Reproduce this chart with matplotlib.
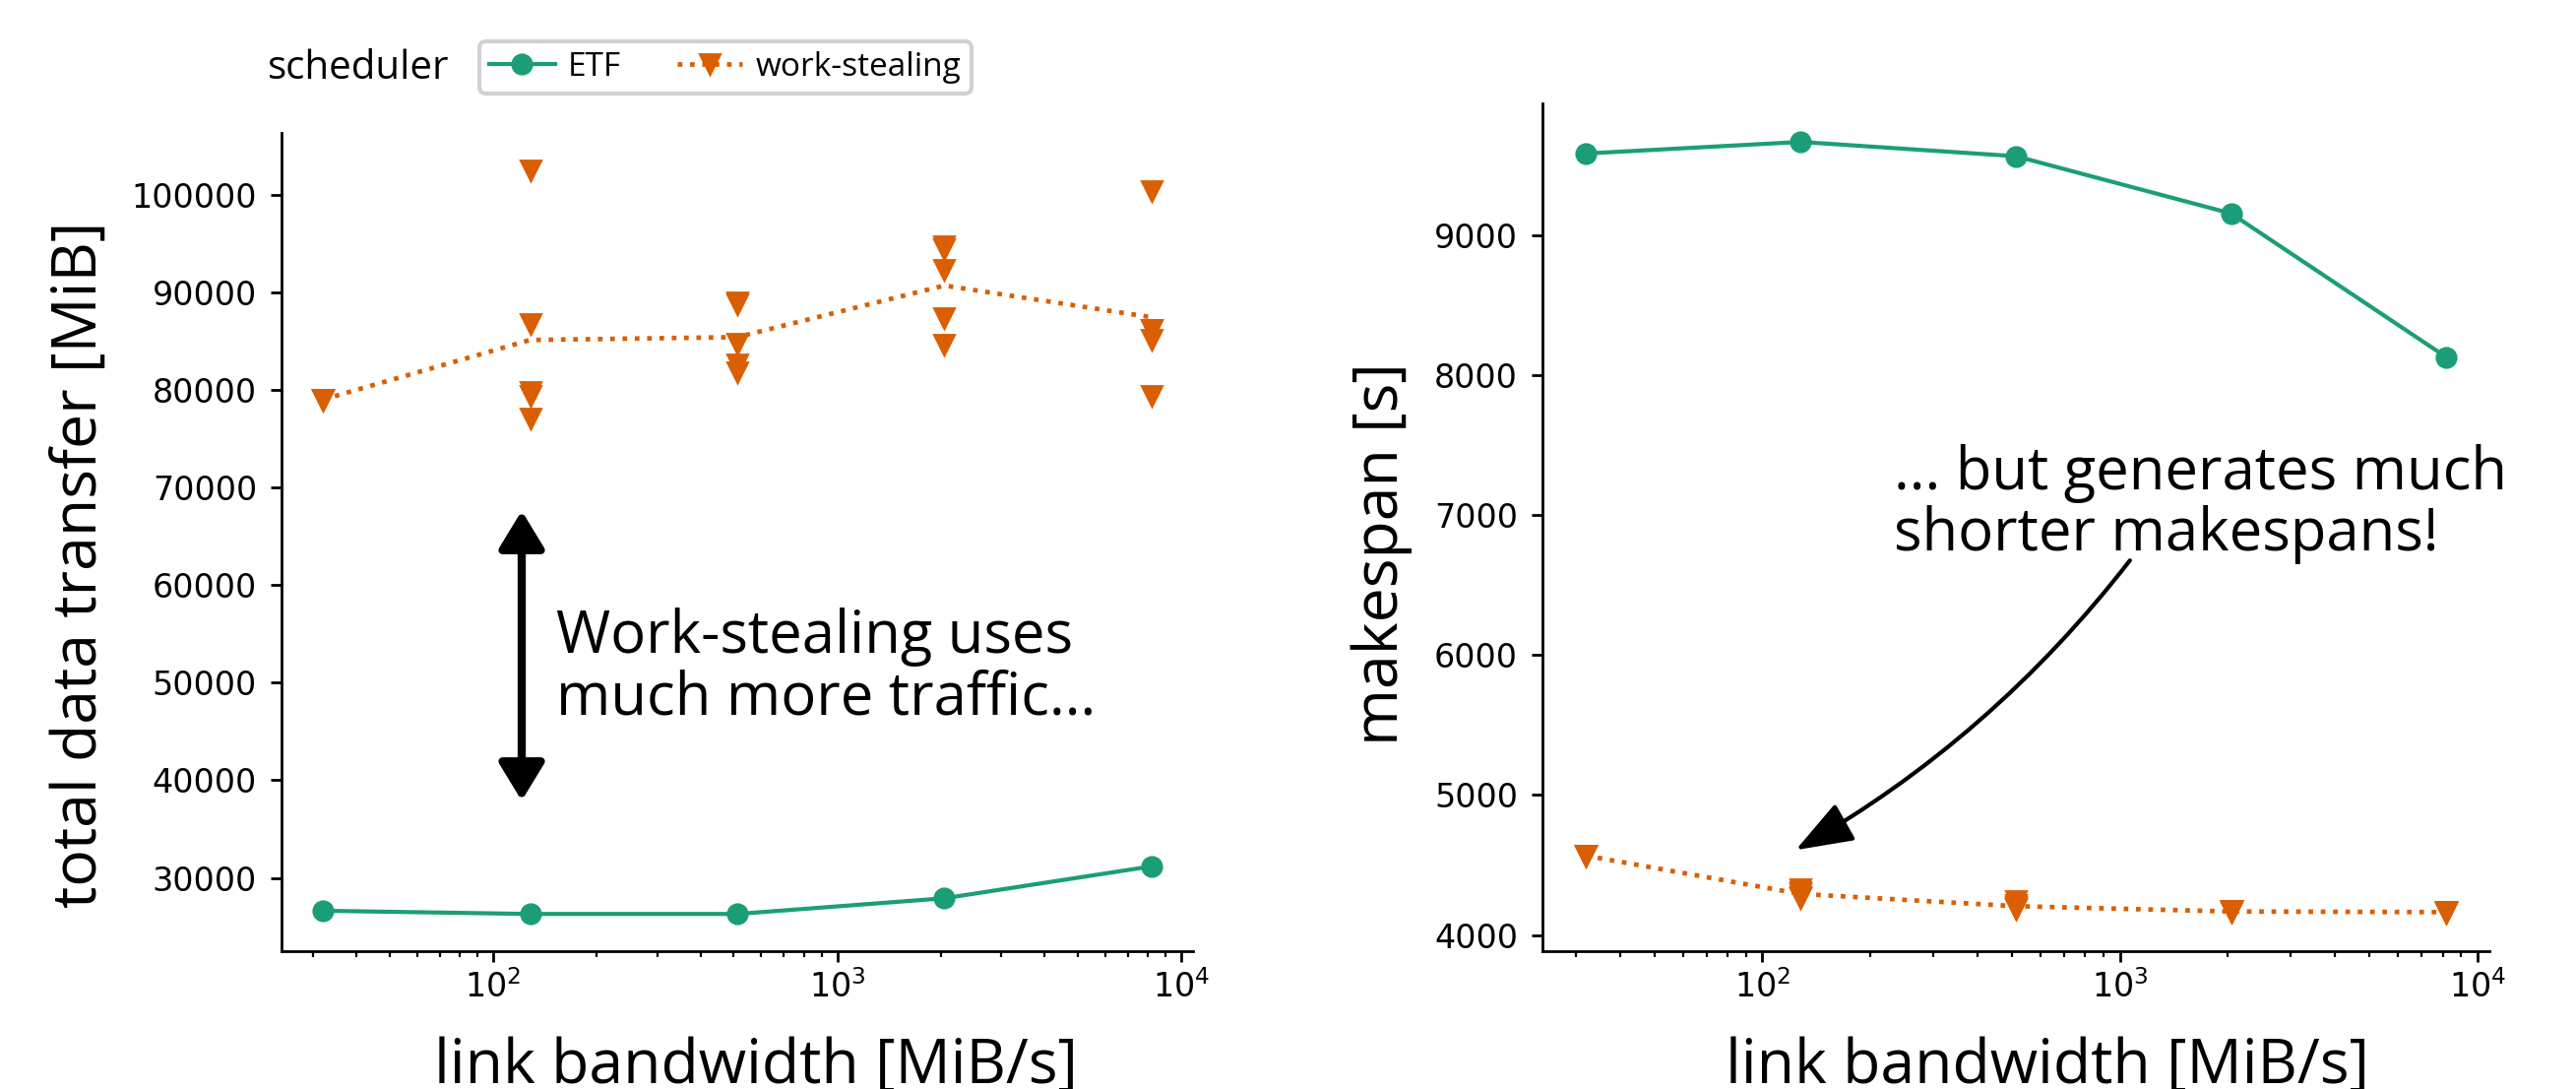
import numpy as np
import matplotlib
matplotlib.use("Agg")
import matplotlib.pyplot as plt
from matplotlib.ticker import MultipleLocator
from matplotlib.lines import Line2D

# ---------------- data ----------------
bandwidth = [32, 128, 512, 2048, 8192]          # link bandwidth [MiB/s]
schedulers = ["ETF", "work-stealing"]

etf_transfer = [26630, 26300, 26300, 27910, 31180]
ws_transfer_32 = [79000, 79000, 79000, 79000, 79000]
ws_transfer_128 = [102500, 86700, 79800, 79400, 77100]
ws_transfer_512 = [89000, 88800, 84700, 82650, 81800]
ws_transfer_2048 = [94700, 94400, 92330, 87370, 84580]
ws_transfer_8192 = [100340, 86160, 86160, 85080, 79400]
ws_transfer = [ws_transfer_32, ws_transfer_128, ws_transfer_512,
               ws_transfer_2048, ws_transfer_8192]

etf_makespan = [9581, 9664, 9562, 9153, 8127]
ws_makespan_32 = [4567, 4567, 4567, 4567, 4567]
ws_makespan_128 = [4330, 4310, 4290, 4275, 4262]
ws_makespan_512 = [4240, 4215, 4200, 4190, 4185]
ws_makespan_2048 = [4172, 4170, 4168, 4166, 4165]
ws_makespan_8192 = [4168, 4165, 4163, 4161, 4160]
ws_makespan = [ws_makespan_32, ws_makespan_128, ws_makespan_512,
               ws_makespan_2048, ws_makespan_8192]

# ---------------- style ----------------
plt.rcParams['font.family'] = ['Open Sans', 'DejaVu Sans']
plt.rcParams['axes.linewidth'] = 1.0

ETF_C = '#1b9e77'
WS_C = '#d95f02'

W, H = 2617, 1106
fig = plt.figure(figsize=(W / 200, H / 200), dpi=200)
ax1 = fig.add_axes([286 / W, 1 - 966 / H, 926 / W, 831 / H])
ax2 = fig.add_axes([1567 / W, 1 - 966 / H, 962 / W, 861 / H])


def draw(ax, etf, ws):
    ax.set_xscale('log')
    ax.plot(bandwidth, etf, color=ETF_C, marker='o', ms=7, lw=1.5, zorder=3)
    means = [np.mean(v) for v in ws]
    ax.plot(bandwidth, means, color=WS_C, ls=':', lw=1.7, zorder=3)
    for x, vals in zip(bandwidth, ws):
        ax.plot([x] * len(vals), vals, ls='none', marker='v', ms=7,
                color=WS_C, zorder=4)
    for s in ('top', 'right'):
        ax.spines[s].set_visible(False)
    ax.tick_params(axis='both', which='major', length=4, width=1,
                   labelsize=12, labelfontfamily='DejaVu Sans')
    ax.tick_params(axis='y', which='major', pad=5)
    ax.tick_params(axis='x', which='major', pad=3)
    ax.tick_params(axis='x', which='minor', length=2.2, width=0.8)


draw(ax1, etf_transfer, ws_transfer)
draw(ax2, etf_makespan, ws_makespan)

ax1.yaxis.set_major_locator(MultipleLocator(10000))
ax2.yaxis.set_major_locator(MultipleLocator(1000))

ax1.set_ylabel('total data transfer [MiB]', fontsize=22.5)
ax1.yaxis.set_label_coords(-0.187, 0.472)
ax1.set_xlabel('link bandwidth [MiB/s]', fontsize=22.5)
ax1.xaxis.set_label_coords(0.52, -0.1035)

ax2.set_ylabel('makespan [s]', fontsize=22.5)
ax2.yaxis.set_label_coords(-0.137, 0.469)
ax2.set_xlabel('link bandwidth [MiB/s]', fontsize=22.5)
ax2.xaxis.set_label_coords(0.533, -0.0999)

# annotations
ax1.annotate('', xy=(121, 67600), xytext=(121, 37900),
             arrowprops=dict(arrowstyle='<|-|>,head_length=0.575,head_width=0.35',
                             color='black', lw=3, mutation_scale=20,
                             shrinkA=0, shrinkB=0))
ax1.text(152, 57700, 'Work-stealing uses\nmuch more traffic...',
         fontsize=21.5, va='top', ha='left', linespacing=1.05)

ax2.text(233, 7507, '... but generates much\nshorter makespans!',
         fontsize=21.5, va='top', ha='left', linespacing=1.05)
ax2.annotate('', xy=(124, 4607), xytext=(1067, 6675),
             arrowprops=dict(arrowstyle='-|>,head_length=0.9,head_width=0.33',
                             color='black', lw=1.5, mutation_scale=20,
                             shrinkA=0, shrinkB=0,
                             connectionstyle='arc3,rad=-0.1'))

# legend
handles = [Line2D([], [], color=ETF_C, marker='o', ms=7, lw=1.5),
           Line2D([], [], color=WS_C, marker='v', ms=7, lw=1.7, ls=':')]
leg = fig.legend(handles, schedulers, loc='upper left',
                 bbox_to_anchor=(487 / W, 1 - 42 / H), ncol=2, fontsize=12,
                 frameon=True, fancybox=True, edgecolor='0.82',
                 handlelength=2.0, handletextpad=0.4, columnspacing=1.7,
                 borderpad=0.3, borderaxespad=0, framealpha=1)
leg.get_frame().set_linewidth(1.5)
fig.text(272 / W, 1 - 80 / H, 'scheduler', fontsize=14.5, va='baseline', ha='left')

fig.savefig('out.png', dpi=200, facecolor='white')
